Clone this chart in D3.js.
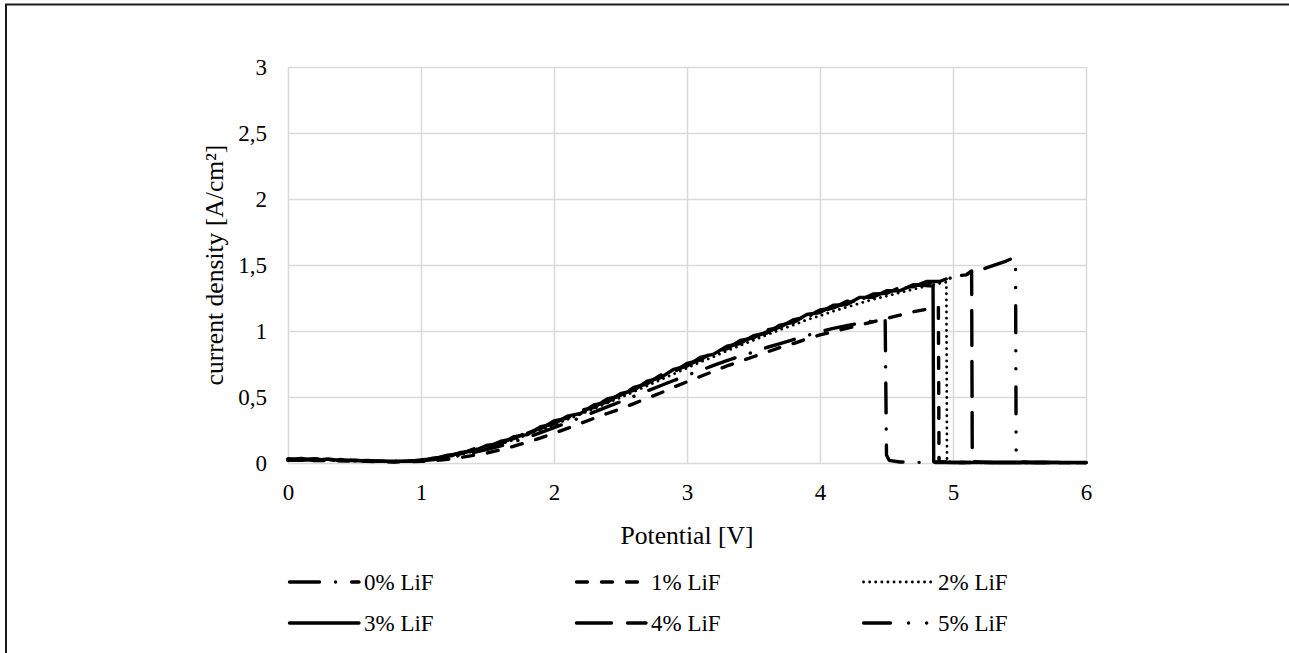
<!DOCTYPE html>
<html>
<head>
<meta charset="utf-8">
<script src="https://cdn.jsdelivr.net/npm/d3@7"></script>
<style>
  html, body { margin: 0; padding: 0; background: #fff; }
  svg { display: block; }
  text { font-family: "Liberation Serif", "Times New Roman", serif; fill: #000; }
</style>
</head>
<body>
<svg id="chart" width="1289" height="653"></svg>
<script>
// ---- Data (Potential [V], current density [A/cm²]) ----
const xTicks = [0, 1, 2, 3, 4, 5, 6];
const yTicks = [0, 0.5, 1, 1.5, 2, 2.5, 3];
const seriesNames = ["0% LiF", "1% LiF", "2% LiF", "3% LiF", "4% LiF", "5% LiF"];

const lif0 = [[0,0.03],[0.1,0.025],[0.2,0.03],[0.3,0.022],[0.4,0.02],[0.5,0.02],[0.6,0.016],[0.7,0.012],[0.8,0.014],[0.9,0.012],[1.0,0.016],[1.1,0.026],[1.2,0.04],[1.3,0.058],[1.4,0.08],[1.5,0.104],[1.6,0.13],[1.7,0.16],[1.8,0.194],[1.9,0.23],[2.0,0.268],[2.1,0.305],[2.2,0.345],[2.3,0.385],[2.4,0.425],[2.5,0.465],[2.6,0.505],[2.7,0.545],[2.8,0.585],[2.9,0.625],[3.0,0.665],[3.1,0.7],[3.2,0.74],[3.3,0.775],[3.4,0.81],[3.5,0.84],[3.6,0.875],[3.7,0.905],[3.8,0.935],[3.9,0.965],[4.0,0.995],[4.1,1.02],[4.2,1.04],[4.3,1.06],[4.4,1.075],[4.49,1.085],[4.5,0.06],[4.52,0.02],[4.6,0.008],[4.8,0.004],[6.0,0.003]];

const lif1 = [[0,0.02],[0.1,0.022],[0.2,0.018],[0.3,0.02],[0.4,0.016],[0.5,0.015],[0.6,0.012],[0.7,0.01],[0.8,0.01],[0.9,0.01],[1.0,0.012],[1.1,0.018],[1.2,0.028],[1.3,0.042],[1.4,0.058],[1.5,0.076],[1.6,0.1],[1.7,0.128],[1.8,0.158],[1.9,0.19],[2.0,0.225],[2.1,0.262],[2.2,0.3],[2.3,0.338],[2.4,0.375],[2.5,0.41],[2.6,0.45],[2.7,0.49],[2.8,0.53],[2.9,0.575],[3.0,0.615],[3.1,0.655],[3.2,0.695],[3.3,0.735],[3.4,0.77],[3.5,0.805],[3.6,0.84],[3.7,0.875],[3.8,0.905],[3.9,0.94],[4.0,0.97],[4.1,0.995],[4.2,1.02],[4.3,1.045],[4.4,1.07],[4.5,1.095],[4.6,1.12],[4.7,1.145],[4.8,1.165],[4.89,1.18],[4.895,0.01],[5.0,0.004],[6.0,0.003]];

const lif2 = [[0,0.02],[0.1,0.025],[0.2,0.03],[0.3,0.02],[0.4,0.025],[0.5,0.015],[0.6,0.018],[0.7,0.01],[0.8,0.012],[0.9,0.01],[1.0,0.018],[1.1,0.03],[1.2,0.045],[1.3,0.065],[1.4,0.09],[1.5,0.115],[1.6,0.145],[1.7,0.175],[1.8,0.215],[1.9,0.25],[2.0,0.29],[2.1,0.33],[2.2,0.37],[2.3,0.41],[2.4,0.455],[2.5,0.495],[2.6,0.54],[2.7,0.585],[2.8,0.63],[2.9,0.675],[3.0,0.72],[3.1,0.765],[3.2,0.805],[3.3,0.85],[3.4,0.89],[3.5,0.93],[3.6,0.97],[3.7,1.01],[3.8,1.045],[3.9,1.085],[4.0,1.115],[4.1,1.15],[4.2,1.18],[4.3,1.21],[4.4,1.24],[4.5,1.265],[4.6,1.29],[4.7,1.315],[4.8,1.34],[4.9,1.36],[4.95,1.37],[4.955,0.01],[5.1,0.004],[6.0,0.003]];

const lif3 = [[0,0.025],[0.1,0.035],[0.2,0.02],[0.3,0.03],[0.4,0.018],[0.5,0.022],[0.6,0.014],[0.7,0.016],[0.8,0.01],[0.9,0.016],[1.0,0.02],[1.1,0.038],[1.2,0.048],[1.3,0.08],[1.4,0.092],[1.5,0.135],[1.6,0.145],[1.7,0.2],[1.8,0.215],[1.9,0.275],[2.0,0.295],[2.1,0.355],[2.2,0.375],[2.3,0.44],[2.4,0.46],[2.5,0.525],[2.6,0.55],[2.7,0.62],[2.8,0.645],[2.9,0.71],[3.0,0.735],[3.1,0.8],[3.2,0.825],[3.3,0.885],[3.4,0.905],[3.5,0.965],[3.6,0.985],[3.7,1.045],[3.8,1.065],[3.9,1.125],[4.0,1.14],[4.1,1.195],[4.2,1.2],[4.3,1.255],[4.4,1.255],[4.5,1.305],[4.6,1.305],[4.7,1.35],[4.8,1.345],[4.85,1.34],[4.855,0.01],[5.0,0.004],[6.0,0.004]];

const lif4 = [[0,0.03],[0.1,0.02],[0.2,0.032],[0.3,0.018],[0.4,0.026],[0.5,0.016],[0.6,0.02],[0.7,0.01],[0.8,0.014],[0.9,0.012],[1.0,0.024],[1.1,0.032],[1.2,0.06],[1.3,0.07],[1.4,0.108],[1.5,0.122],[1.6,0.165],[1.7,0.185],[1.8,0.236],[1.9,0.26],[2.0,0.318],[2.1,0.34],[2.2,0.4],[2.3,0.42],[2.4,0.485],[2.5,0.508],[2.6,0.572],[2.7,0.6],[2.8,0.665],[2.9,0.69],[3.0,0.755],[3.1,0.78],[3.2,0.845],[3.3,0.865],[3.4,0.928],[3.5,0.948],[3.6,1.008],[3.7,1.028],[3.8,1.085],[3.9,1.105],[4.0,1.16],[4.1,1.175],[4.2,1.225],[4.3,1.235],[4.4,1.28],[4.5,1.285],[4.6,1.33],[4.7,1.335],[4.8,1.375],[4.9,1.375],[5.0,1.415],[5.1,1.425],[5.14,1.455],[5.145,0.01],[5.3,0.004],[6.0,0.003]];

const lif5 = [[0,0.02],[0.1,0.028],[0.2,0.02],[0.3,0.025],[0.4,0.018],[0.5,0.022],[0.6,0.014],[0.7,0.014],[0.8,0.01],[0.9,0.012],[1.0,0.02],[1.1,0.036],[1.2,0.054],[1.3,0.074],[1.4,0.1],[1.5,0.126],[1.6,0.156],[1.7,0.188],[1.8,0.225],[1.9,0.264],[2.0,0.305],[2.1,0.344],[2.2,0.386],[2.3,0.428],[2.4,0.47],[2.5,0.514],[2.6,0.558],[2.7,0.605],[2.8,0.65],[2.9,0.696],[3.0,0.74],[3.1,0.785],[3.2,0.828],[3.3,0.87],[3.4,0.912],[3.5,0.952],[3.6,0.993],[3.7,1.032],[3.8,1.07],[3.9,1.108],[4.0,1.142],[4.1,1.178],[4.2,1.21],[4.3,1.24],[4.4,1.265],[4.5,1.29],[4.6,1.315],[4.7,1.34],[4.8,1.36],[4.9,1.385],[5.0,1.405],[5.1,1.43],[5.2,1.46],[5.3,1.495],[5.4,1.53],[5.47,1.56],[5.475,0.01],[5.6,0.004],[6.0,0.003]];

const seriesData = [lif0, lif1, lif2, lif3, lif4, lif5];

// ---- Styles ----
const styles = [
  { dash: "30,16,0.1,16", width: 3.4 },
  { dash: "11,14", width: 3.4 },
  { dash: "0.1,6", width: 2.8 },
  { dash: null, width: 3.4 },
  { dash: "35,16", width: 3.4 },
  { dash: "27,18,0.1,18,0.1,18", width: 3.4 }
];

const svg = d3.select("#chart");
const pLeft = 288, pRight = 1086, pTop = 67, pBottom = 463;
const x = d3.scaleLinear().domain([0, 6]).range([pLeft, pRight]);
const y = d3.scaleLinear().domain([0, 3]).range([pBottom, pTop]);
const fmt = d => String(d).replace(".", ",");

// outer border
svg.append("rect").attr("x", 6).attr("y", 4.5).attr("width", 1400).attr("height", 800)
  .attr("fill", "none").attr("stroke", "#1a1a1a").attr("stroke-width", 2);

// gridlines
const gridColor = "#d9d9d9";
const gx = svg.append("g").attr("transform", `translate(0,${pBottom})`)
  .call(d3.axisBottom(x).tickValues(xTicks).tickSize(-(pBottom - pTop)).tickFormat(""));
const gy = svg.append("g").attr("transform", `translate(${pLeft},0)`)
  .call(d3.axisLeft(y).tickValues(yTicks).tickSize(-(pRight - pLeft)).tickFormat(""));
[gx, gy].forEach(g => {
  g.select(".domain").remove();
  g.selectAll("line").attr("stroke", gridColor).attr("stroke-width", 1.5);
});

// tick labels
const ax = svg.append("g").attr("transform", `translate(0,${pBottom})`)
  .call(d3.axisBottom(x).tickValues(xTicks).tickSize(0).tickPadding(21).tickFormat(fmt));
const ay = svg.append("g").attr("transform", `translate(${pLeft},0)`)
  .call(d3.axisLeft(y).tickValues(yTicks).tickSize(0).tickPadding(21).tickFormat(fmt));
[ax, ay].forEach(g => {
  g.select(".domain").remove();
  g.selectAll("text").attr("font-size", 23).attr("font-family", "'Liberation Serif', 'Times New Roman', serif").attr("fill", "#000");
});

// series lines
const line = d3.line().x(d => x(d[0])).y(d => y(d[1]));
seriesData.forEach((data, i) => {
  svg.append("path").datum(data)
    .attr("d", line)
    .attr("fill", "none")
    .attr("stroke", "#000")
    .attr("stroke-width", styles[i].width)
    .attr("stroke-linecap", "round")
    .attr("stroke-linejoin", "round")
    .attr("stroke-dasharray", styles[i].dash);
});

// axis titles
svg.append("text").attr("x", (pLeft + pRight) / 2).attr("y", 544)
  .attr("text-anchor", "middle").attr("font-size", 25.6).text("Potential [V]");
svg.append("text").attr("transform", `translate(223,${(pTop + pBottom) / 2}) rotate(-90)`)
  .attr("text-anchor", "middle").attr("font-size", 25.6).text("current density [A/cm²]");

// legend
const legCols = [288, 575, 862];
const legRows = [582, 623];
seriesNames.forEach((name, i) => {
  const cx = legCols[i % 3], cy = legRows[Math.floor(i / 3)];
  const g = svg.append("g").attr("transform", `translate(${cx},${cy})`);
  g.append("line").attr("x1", 1.5).attr("x2", 71).attr("y1", 0).attr("y2", 0)
    .attr("stroke", "#000").attr("stroke-width", styles[i].width)
    .attr("stroke-linecap", "round")
    .attr("stroke-dasharray", styles[i].dash);
  g.append("text").attr("x", 76).attr("y", 0).attr("dy", "0.35em")
    .attr("font-size", 23).text(name);
});
</script>
</body>
</html>
